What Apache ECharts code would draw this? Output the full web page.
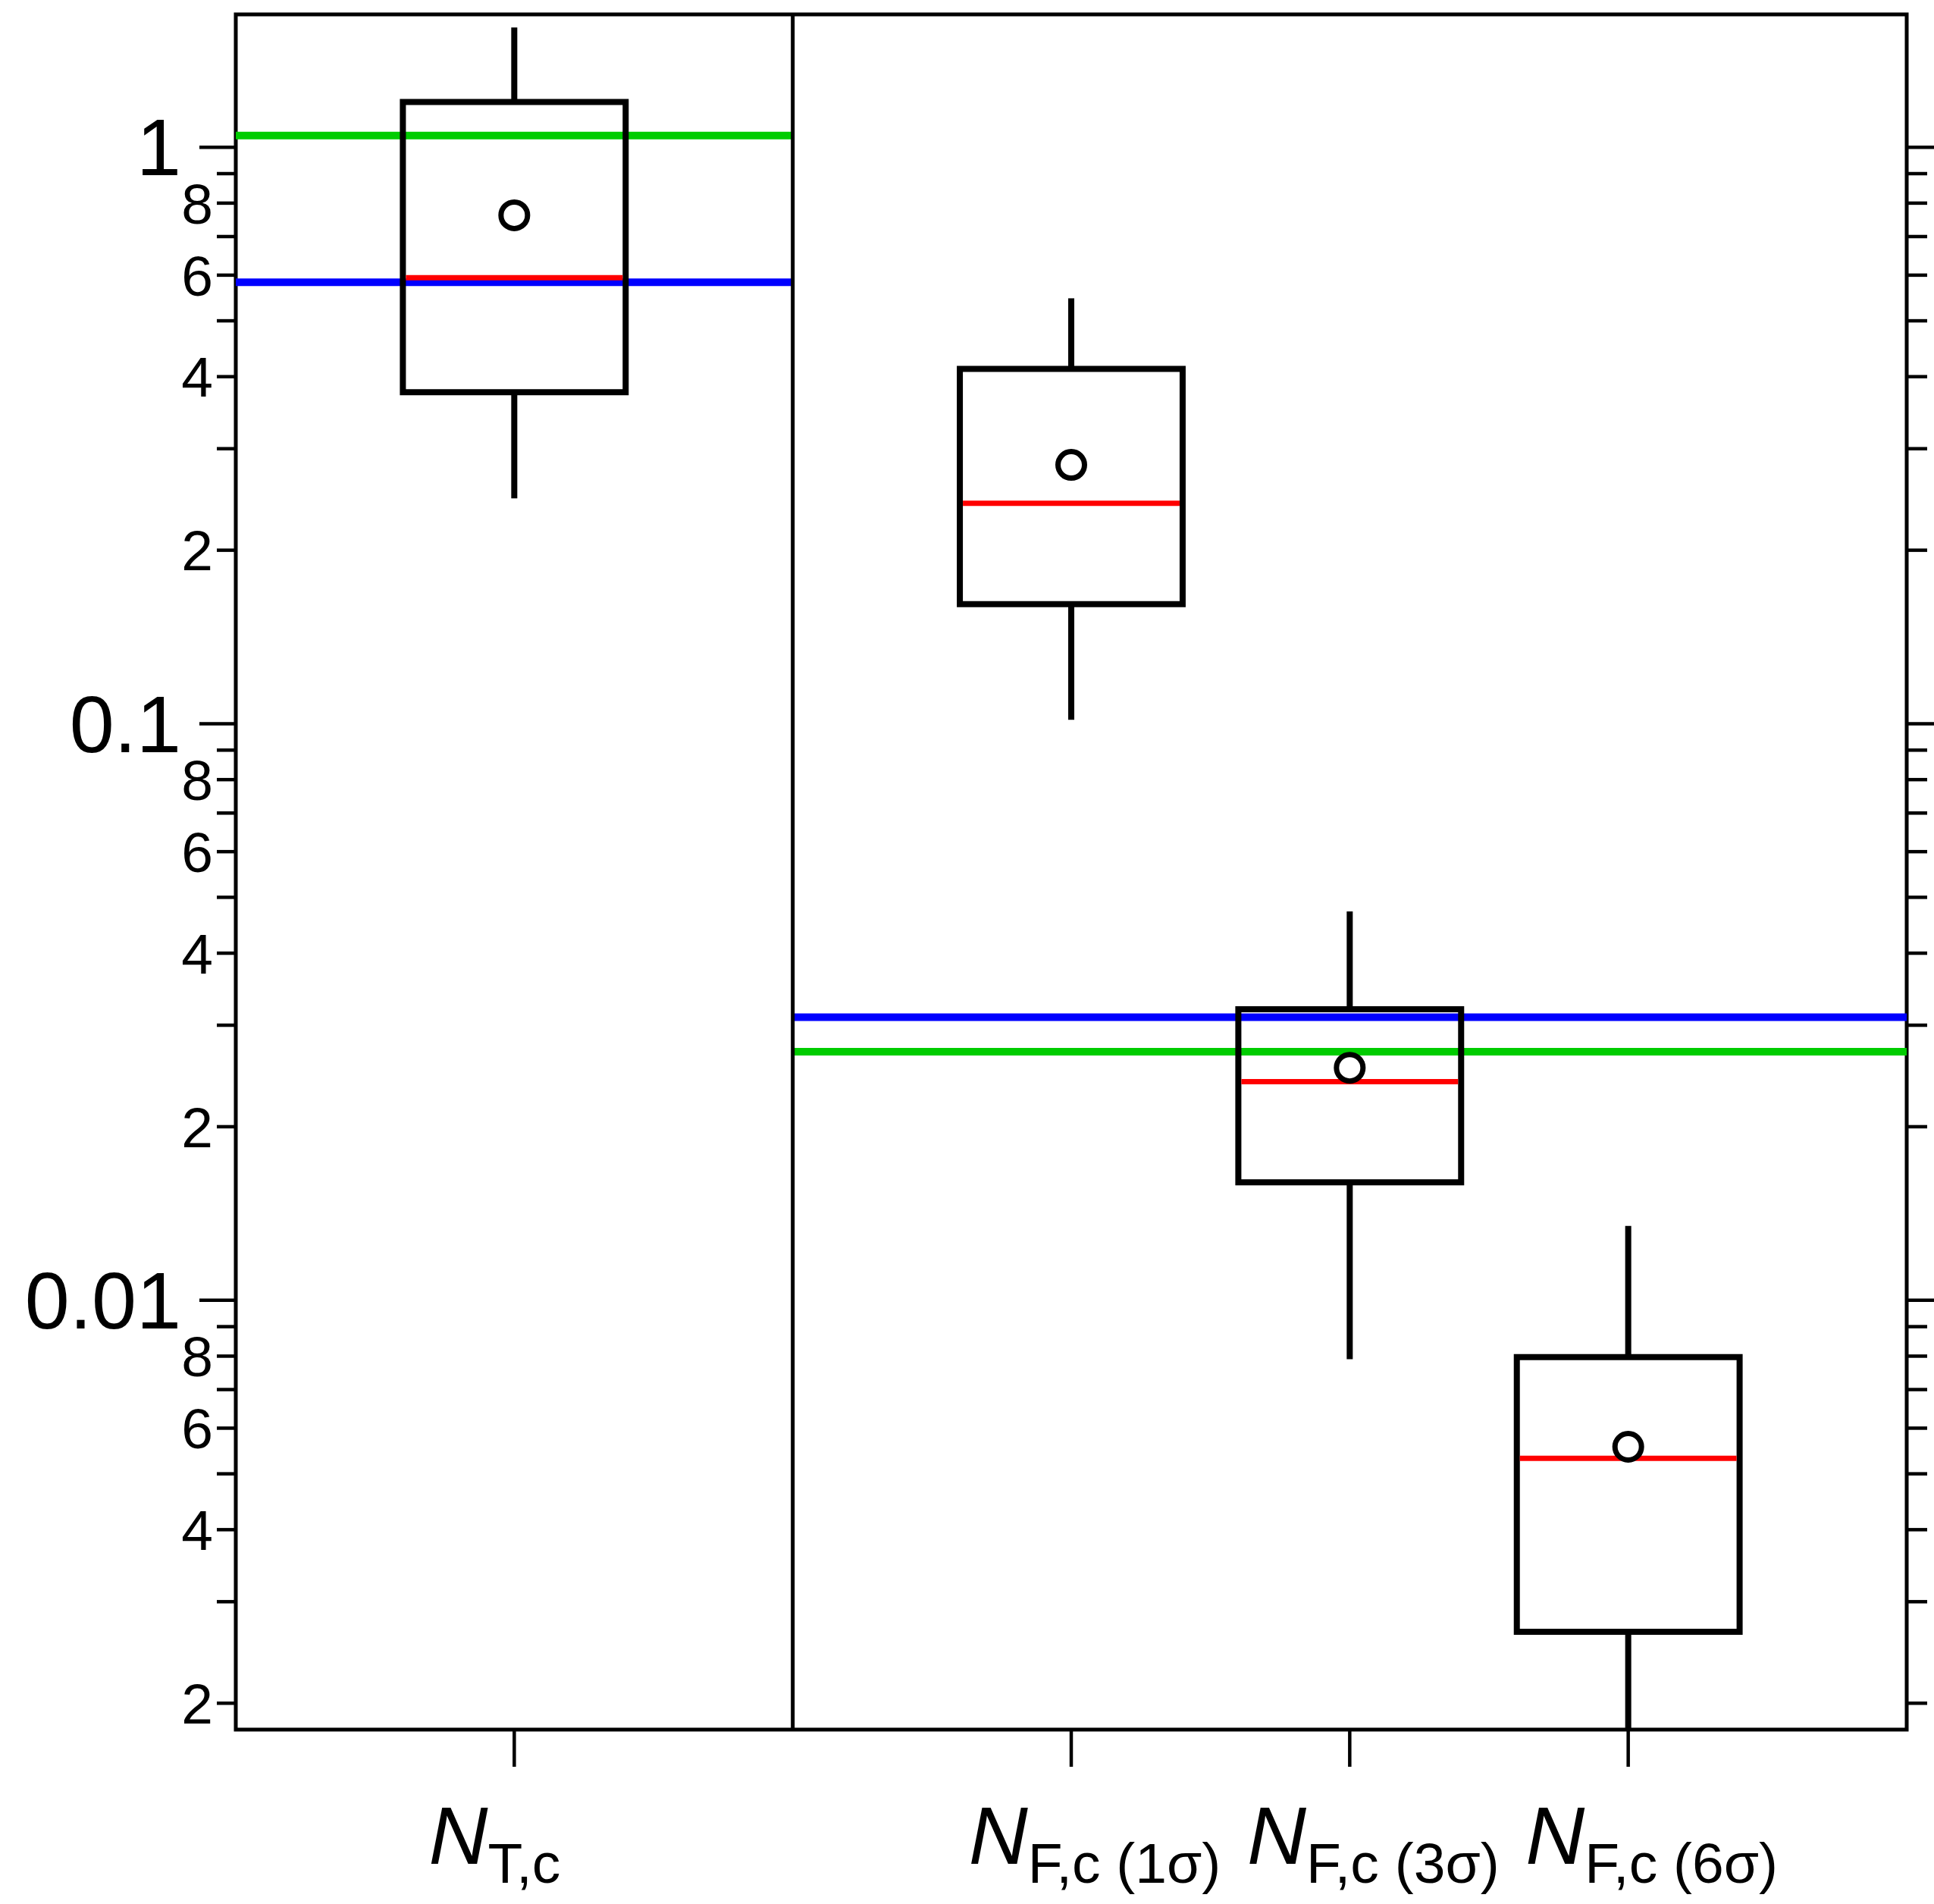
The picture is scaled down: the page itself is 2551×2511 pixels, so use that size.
<!DOCTYPE html>
<html>
<head>
<meta charset="utf-8">
<script src="https://cdn.jsdelivr.net/npm/echarts@6/dist/echarts.min.js"></script>
<style>
  html, body { margin: 0; padding: 0; background: #fff; }
  #chart { width: 2551px; height: 2511px; }
</style>
</head>
<body>
<div id="chart"></div>
<script>
// ---------------- data ----------------
const categoryMain = ['N', 'N', 'N', 'N'];
const categorySub = ['T,c', 'F,c (1σ)', 'F,c (3σ)', 'F,c (6σ)'];
const categoryPos = [1, 3, 4, 5];

const whiskerLow  = [0.246, 0.1016, 0.0079, 0.0018];
const quartile1   = [0.376, 0.1613, 0.01602, 0.00266];
const median      = [0.594, 0.2413, 0.02395, 0.00532];
const quartile3   = [1.198, 0.4126, 0.03198, 0.00797];
const whiskerHigh = [1.613, 0.547, 0.04727, 0.01346];
const meanValue   = [0.762, 0.2812, 0.02531, 0.00557];

const spanStart   = [0, 2];
const spanEnd     = [2, 6];
const greenLevels = [1.048, 0.02698];
const blueLevels  = [0.583, 0.03097];

const dividerX = 2;
const xMin = 0, xMax = 6;
const yMin = 0.0018, yMax = 1.7;

const yMajorTicks  = [0.01, 0.1, 1];
const yMajorLabels = ['0.01', '0.1', '1'];
const yMinorTicks  = [0.002, 0.003, 0.004, 0.005, 0.006, 0.007, 0.008, 0.009,
                      0.02, 0.03, 0.04, 0.05, 0.06, 0.07, 0.08, 0.09,
                      0.2, 0.3, 0.4, 0.5, 0.6, 0.7, 0.8, 0.9];
const yMinorLabels = ['2', '', '4', '', '6', '', '8', '',
                      '2', '', '4', '', '6', '', '8', '',
                      '2', '', '4', '', '6', '', '8', ''];

// ---------------- style ----------------
const FONT = '"Liberation Sans", Arial, Helvetica, sans-serif';
const BOX_WIDTH = 0.8;
const LW = 8;
const X_LABEL_SHIFT = [-26, 31, 31, 31];
const X_LABEL_MARGIN = 93;
const X_TICK_LEN = 49;

const chart = echarts.init(document.getElementById('chart'), null, { renderer: 'canvas' });

const boxData = categoryPos.map((p, i) => [p, whiskerLow[i], quartile1[i], median[i], quartile3[i], whiskerHigh[i], meanValue[i]]);
const tickData = yMajorTicks.map((v, i) => [0, v, 1, i]).concat(yMinorTicks.map((v, i) => [0, v, 0, i]));
const xLabelData = categoryPos.map((p, i) => [p, yMin, i]);

const series = [];

// threshold lines
spanStart.forEach((s, i) => {
  series.push({
    type: 'line', z: 2, silent: true, showSymbol: false, symbol: 'none',
    data: [[s, greenLevels[i]], [spanEnd[i], greenLevels[i]]],
    lineStyle: { color: '#00cc00', width: 10 }
  });
  series.push({
    type: 'line', z: 2, silent: true, showSymbol: false, symbol: 'none',
    data: [[s, blueLevels[i]], [spanEnd[i], blueLevels[i]]],
    lineStyle: { color: '#0000ff', width: 10 }
  });
});

// divider
series.push({
  type: 'line', z: 3, silent: true, showSymbol: false, symbol: 'none',
  data: [[dividerX, yMin], [dividerX, yMax]],
  lineStyle: { color: '#000', width: 5 }
});

// boxes
series.push({
  type: 'custom', z: 4, silent: true,
  data: boxData,
  encode: { x: 0, y: [1, 2, 3, 4, 5, 6] },
  renderItem: function (params, api) {
    const x = api.value(0);
    const pLow = api.coord([x, api.value(1)]);
    const pQ1 = api.coord([x, api.value(2)]);
    const pMed = api.coord([x, api.value(3)]);
    const pQ3 = api.coord([x, api.value(4)]);
    const pHigh = api.coord([x, api.value(5)]);
    const pMean = api.coord([x, api.value(6)]);
    const xl = api.coord([x - BOX_WIDTH / 2, api.value(3)])[0];
    const xr = api.coord([x + BOX_WIDTH / 2, api.value(3)])[0];
    const cx = pMed[0];
    const black = { stroke: '#000', lineWidth: LW, fill: 'none' };
    return {
      type: 'group',
      children: [
        { type: 'line', shape: { x1: cx, y1: pHigh[1], x2: cx, y2: pQ3[1] }, style: black },
        { type: 'line', shape: { x1: cx, y1: pQ1[1], x2: cx, y2: pLow[1] }, style: black },
        { type: 'rect', shape: { x: xl, y: pQ3[1], width: xr - xl, height: pQ1[1] - pQ3[1] }, style: black },
        { type: 'line', shape: { x1: xl + LW / 2, y1: pMed[1], x2: xr - LW / 2, y2: pMed[1] }, style: { stroke: '#ff0000', lineWidth: 7 } },
        { type: 'circle', shape: { cx: cx, cy: pMean[1], r: 17.5 }, style: { fill: '#fff', stroke: '#000', lineWidth: 7 } }
      ]
    };
  }
});

// y ticks (left with labels, right outward)
series.push({
  type: 'custom', z: 5, silent: true, clip: false,
  data: tickData,
  encode: { x: 0, y: 1 },
  renderItem: function (params, api) {
    const v = api.value(1);
    const major = api.value(2) === 1;
    const idx = api.value(3);
    const pl = api.coord([xMin, v]);
    const pr = api.coord([xMax, v]);
    const leftLen = major ? 48 : 25;
    const rightLen = major ? 40 : 27;
    const label = major ? yMajorLabels[idx] : yMinorLabels[idx];
    const children = [
      { type: 'line', shape: { x1: pl[0] - leftLen, y1: pl[1], x2: pl[0], y2: pl[1] }, style: { stroke: '#000', lineWidth: 4.5 } },
      { type: 'line', shape: { x1: pr[0], y1: pr[1], x2: pr[0] + rightLen, y2: pr[1] }, style: { stroke: '#000', lineWidth: 4.5 } }
    ];
    if (label) {
      children.push({
        type: 'text',
        x: pl[0] - leftLen - (major ? 24 : 5),
        y: pl[1] + (major ? 8 : 6),
        style: {
          text: label, fill: '#000', fontFamily: FONT,
          fontSize: major ? 106 : 75,
          align: 'right', verticalAlign: 'middle'
        }
      });
    }
    return { type: 'group', children: children };
  }
});

// x ticks and category labels
series.push({
  type: 'custom', z: 5, silent: true, clip: false,
  data: xLabelData,
  encode: { x: 0, y: 1 },
  renderItem: function (params, api) {
    const i = api.value(2);
    const p = api.coord([api.value(0), api.value(1)]);
    return {
      type: 'group',
      children: [
        { type: 'line', shape: { x1: p[0], y1: p[1], x2: p[0], y2: p[1] + X_TICK_LEN }, style: { stroke: '#000', lineWidth: 4.5 } },
        {
          type: 'text',
          x: p[0] + X_LABEL_SHIFT[i],
          y: p[1] + X_LABEL_MARGIN,
          style: {
            text: '{n|' + categoryMain[i] + '}{s|' + categorySub[i] + '}',
            align: 'center', verticalAlign: 'top', fill: '#000',
            rich: {
              n: { fontFamily: FONT, fontSize: 108, fontStyle: 'italic', lineHeight: 126, verticalAlign: 'top', fill: '#000' },
              s: { fontFamily: FONT, fontSize: 75, lineHeight: 40, verticalAlign: 'bottom', fill: '#000' }
            }
          }
        }
      ]
    };
  }
});

chart.setOption({
  animation: false,
  backgroundColor: '#fff',
  grid: {
    left: 311, right: 36, top: 19, bottom: 230,
    show: true, borderColor: '#000', borderWidth: 5, backgroundColor: 'transparent'
  },
  xAxis: {
    type: 'value', min: xMin, max: xMax, interval: 1,
    axisLine: { show: false },
    splitLine: { show: false },
    axisTick: { show: false },
    axisLabel: { show: false }
  },
  yAxis: {
    type: 'log', logBase: 10, min: yMin, max: yMax,
    axisLine: { show: false },
    axisTick: { show: false },
    axisLabel: { show: false },
    splitLine: { show: false },
    minorTick: { show: false }
  },
  series: series
});
</script>
</body>
</html>
